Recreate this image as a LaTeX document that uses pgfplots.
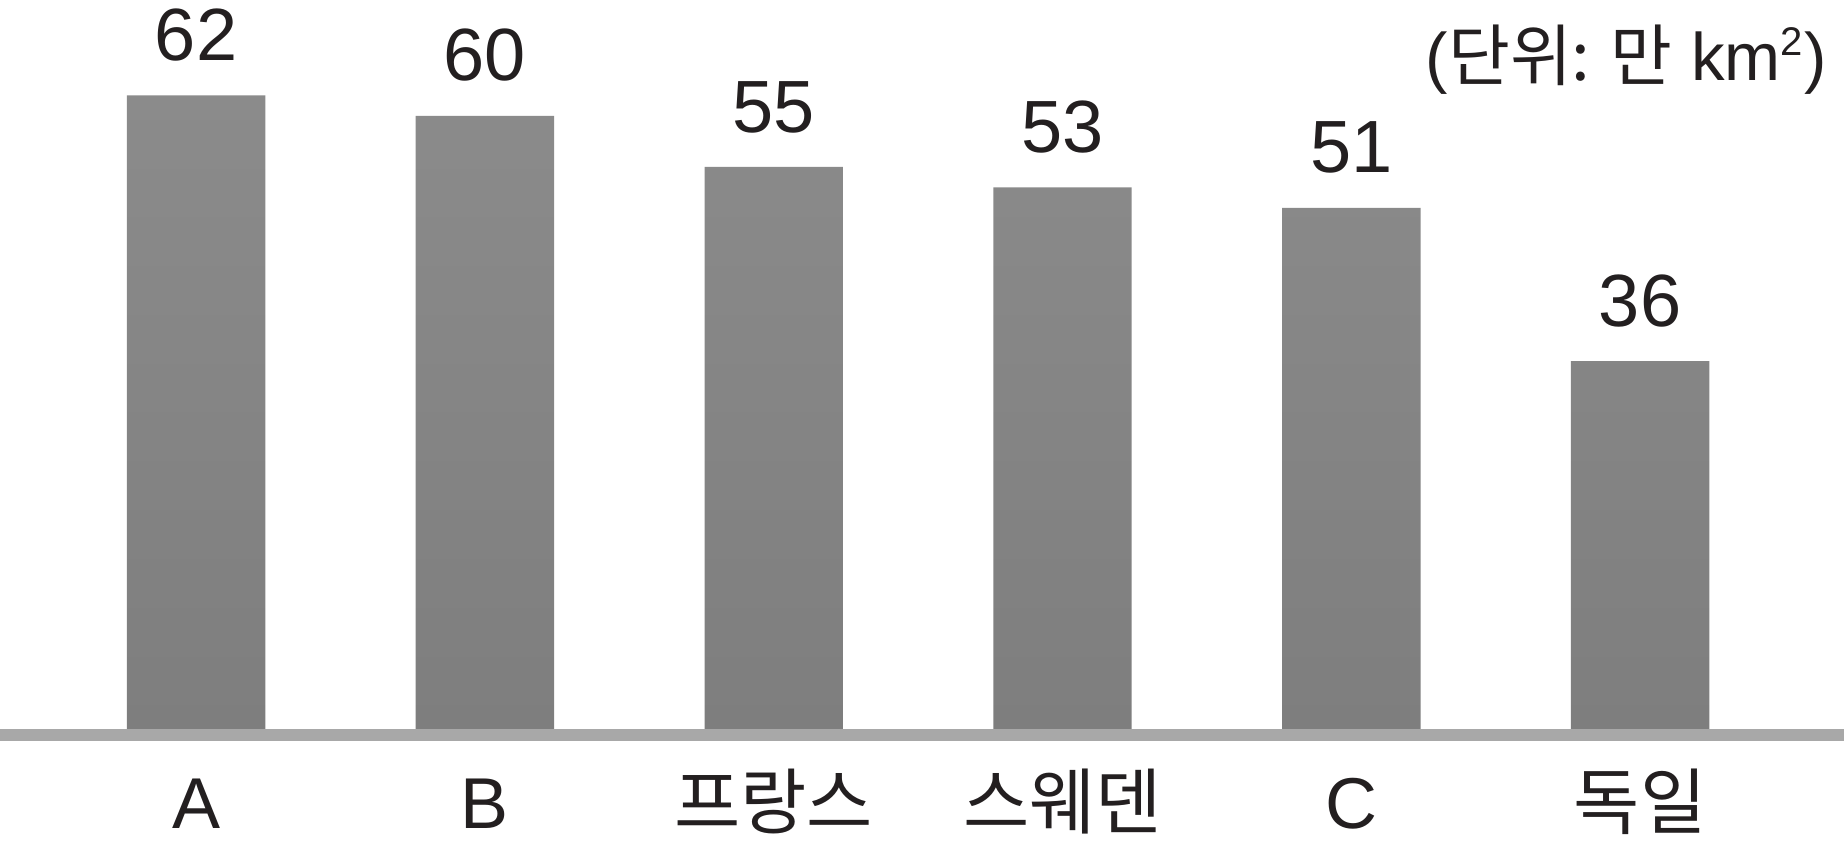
\documentclass[border=0pt]{standalone}
\usepackage{pgfplots}
\pgfplotsset{compat=1.18}
\usepackage{fontspec}
\setmainfont{Liberation Sans}
\newfontfamily\kr{Noto Sans CJK KR}

\definecolor{bartop}{HTML}{8B8B8B}
\definecolor{barbot}{HTML}{7E7E7E}
\definecolor{basegray}{HTML}{A8A8A8}
\definecolor{ink}{HTML}{231F20}

\begin{document}
\begin{tikzpicture}
\begin{axis}[
  scale only axis,
  width=461pt, height=211pt,
  xmin=-0.679, xmax=5.706,
  ymin=-11.25, ymax=71.33,
  axis line style={draw=none},
  major tick length=0pt,
  ytick=\empty,
  xtick={0,1,2,3,4,5},
  xticklabels={A,B,{\kr 프랑스},{\kr 스웨덴},C,{\kr 독일}},
  x tick label style={font=\fontsize{18}{18}\selectfont, text=ink,
                      anchor=base, yshift=4pt},
  /pgf/number format/assume math mode=true,
  clip=false,
]
\addplot[ybar, draw=none, top color=bartop, bottom color=barbot,
         bar width=0.479,
         nodes near coords,
         nodes near coords style={font=\fontsize{18.5}{18.5}\selectfont,
                                  text=ink, anchor=base, inner sep=0pt,
                                  yshift=8.7pt}]
  coordinates {(0,62) (1,60) (2,55) (3,53) (4,51) (5,36)};

% baseline band under the bars
\fill[basegray] (axis cs:-0.679,0) rectangle (axis cs:5.706,-1.17);

% unit note
\node[anchor=east, text=ink, inner sep=0pt,
      font=\fontsize{16.8}{16.8}\selectfont]
  at (axis description cs:0.9914,0.929)
  {({\kr 단위: 만} km\textsuperscript{\fontsize{10}{10}\selectfont 2})};
\end{axis}
\pgfresetboundingbox
\path (current axis.south west) rectangle (current axis.north east);
\end{tikzpicture}
\end{document}
